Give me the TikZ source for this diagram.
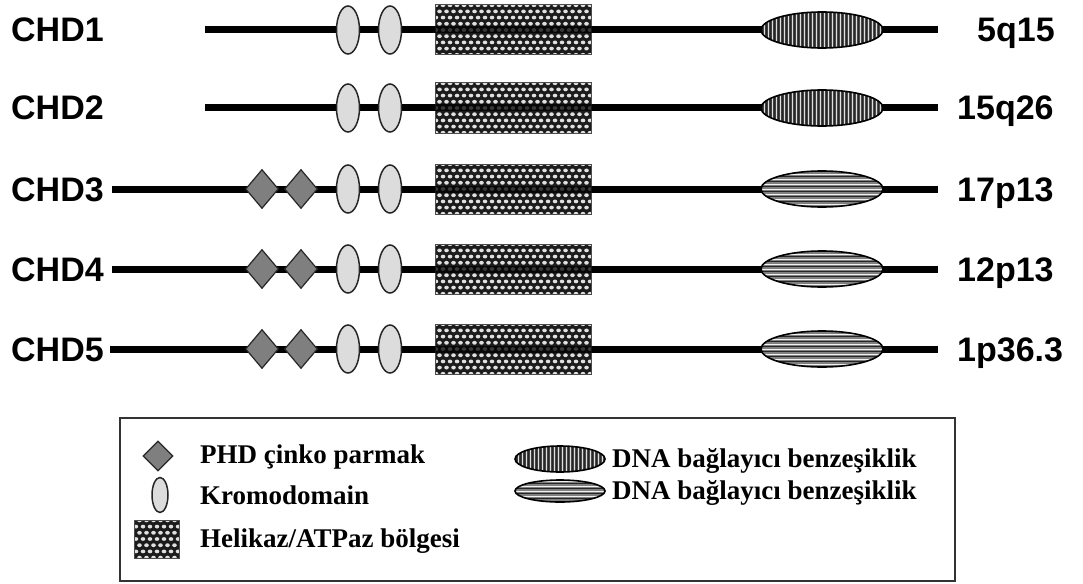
\documentclass[tikz,border=0pt]{standalone}
\usepackage{fontspec}
\setmainfont{Liberation Serif}
\setsansfont{Liberation Sans}
\usetikzlibrary{shapes.geometric,calc}
\definecolor{phdgray}{HTML}{7F7F7F}
\definecolor{chromo}{HTML}{DCDCDC}
\definecolor{heli}{HTML}{1C1C1C}
\newcommand\myhexdots{%
  \foreach \i in {-12,...,12}{\foreach \j in {-4,...,4}{%
    \fill[white!88!black] ($(path picture bounding box.center)+({\i*7+mod(\j,2)*3.5},{\j*6.2})$) ellipse [x radius=2.3pt, y radius=1.9pt];}}}
\newcommand\myvstripes{%
  \foreach \k in {-32,-30,...,32}{%
    \draw[black!85, line width=0.9pt] ($(path picture bounding box.center)+({\k*2},-25)$) -- ++(0,50);
    \draw[white!75!gray, line width=0.5pt] ($(path picture bounding box.center)+({\k*2+2},-25)$) -- ++(0,50);}}
\newcommand\myhstripes{%
  \foreach \k in {-6,...,6}{%
    \draw[white!90!gray, line width=0.8pt] ($(path picture bounding box.center)+(-70,{\k*5})$) -- ++(140,0);
    \draw[black!85, line width=0.9pt] ($(path picture bounding box.center)+(-70,{\k*5+2.5})$) -- ++(140,0);}}
\tikzset{
  backbone/.style={line width=7pt, black},
  phd/.style={diamond, draw=black!85, line width=1.2pt, fill=phdgray, minimum width=33pt, minimum height=39pt, inner sep=0pt},
  chromodom/.style={ellipse, draw=black!85, line width=1.5pt, fill=chromo, minimum width=23pt, minimum height=48pt, inner sep=0pt},
  helibox/.style={rectangle, draw=black!70, line width=1pt, fill=heli, minimum width=156pt, minimum height=50pt, inner sep=0pt, path picture={\myhexdots}},
  dnav/.style={ellipse, draw=black, line width=1.6pt, left color=black!75, middle color=black!35, right color=black!70, minimum width=122pt, minimum height=36pt, inner sep=0pt, path picture={\myvstripes}},
  dnah/.style={ellipse, draw=black, line width=1.6pt, fill=black!50, minimum width=122pt, minimum height=36pt, inner sep=0pt, path picture={\myhstripes}},
  chdlabel/.style={font=\sffamily\bfseries\fontsize{34}{40}\selectfont, anchor=base west, inner sep=0pt},
  leglabel/.style={font=\rmfamily\bfseries\fontsize{27}{32}\selectfont, anchor=base west, inner sep=0pt},
  legframe/.style={draw=black!80, line width=2pt, inner sep=0pt},
}
\begin{document}
\begin{tikzpicture}[x=1pt,y=-1pt]
\useasboundingbox (0,0) rectangle (1083,583);
\fill[white] (0,0) rectangle (1083,583);
% ---- rows
\foreach \r/\yy/\sx/\kind/\loc/\lx/\phdon in {1/30/205/dnav/5q15/977/0,2/108/205/dnav/15q26/957/0,3/189/112/dnah/17p13/957/1,4/269/112/dnah/12p13/957/1,5/349/110/dnah/1p36.3/957/1}{
  \node[chdlabel] (lab\r) at (11,\yy+12) {CHD\r};
  \coordinate (s\r) at (\sx,\yy);
  \coordinate (e\r) at (938,\yy);
  \draw[backbone] (s\r) -- (e\r);
  \ifnum\phdon=1
    \node[phd] (pa\r) at (262,\yy) {};
    \node[phd] (pb\r) at (301,\yy) {};
  \fi
  \node[chromodom] (ca\r) at (348,\yy) {};
  \node[chromodom] (cb\r) at (390,\yy) {};
  \node[helibox] (h\r) at (513,\yy) {};
  \draw[backbone, opacity=0.75] (h\r.west) -- (h\r.east);
  \node[\kind] (d\r) at (822,\yy) {};
  \node[chdlabel] (loc\r) at (\lx,\yy+12) {\loc};
}
% ---- legend
\node[legframe, minimum width=835pt, minimum height=163pt] (legend) at (537.5,499.5) {};
\node[phd, minimum width=30pt, minimum height=30pt] (lgphd) at (158,456) {};
\node[leglabel] (lgphdt) at (200,463) {PHD çinko parmak};
\node[chromodom, minimum width=16pt, minimum height=35pt] (lgchr) at (160,495) {};
\node[leglabel] (lgchrt) at (200,504) {Kromodomain};
\node[helibox, minimum width=45pt, minimum height=38pt] (lghel) at (157,539) {};
\node[leglabel] (lghelt) at (200,547) {Helikaz/ATPaz bölgesi};
\node[dnav, minimum width=90pt, minimum height=26pt] (lgdv) at (560,459) {};
\node[leglabel] (lgdvt) at (612,467) {DNA bağlayıcı benzeşiklik};
\node[dnah, minimum width=90pt, minimum height=22pt] (lgdh) at (560,491) {};
\node[leglabel] (lgdht) at (612,499) {DNA bağlayıcı benzeşiklik};
\end{tikzpicture}
\end{document}
